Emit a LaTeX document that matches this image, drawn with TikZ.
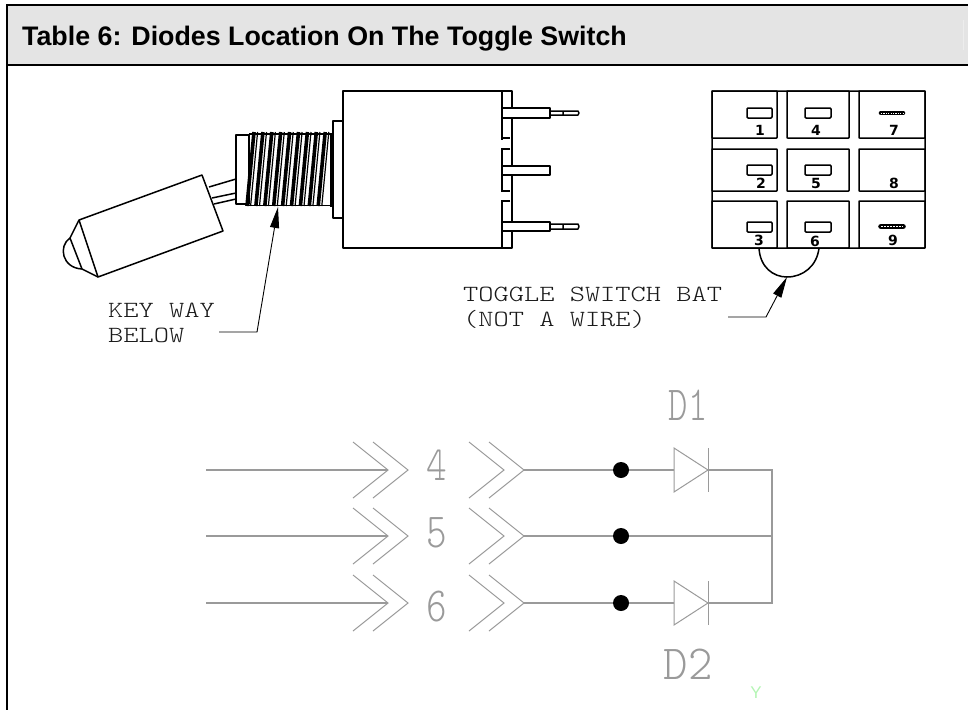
\documentclass[tikz,border=0pt]{standalone}
\usepackage{fontspec}
\setmainfont{Liberation Sans}
\setmonofont{Latin Modern Mono Light}
\newfontfamily\numfont{DejaVu Sans}
\usetikzlibrary{arrows.meta}
\definecolor{headgray}{HTML}{E4E4E4}
\definecolor{wire}{HTML}{9A9A9A}
\definecolor{ygreen}{HTML}{B4F5B4}
\tikzset{
  x=1pt,y=-1pt,
  ink/.style={draw=black,line width=1.5pt,line join=round},
  cell/.style={ink,rounded corners=.5pt},
  gline/.style={draw=wire,line width=1.3pt,line join=miter},
  chev/.style={draw=wire,line width=1pt},
  junction/.style={circle,fill=black,inner sep=0pt,minimum size=16pt},
  lab/.style={anchor=base west,inner sep=0pt,font=\ttfamily\fontsize{29}{29}\selectfont,text=black!90,yscale=.8,transform shape},
  cad/.style={anchor=base,inner sep=0pt,font=\ttfamily\fontsize{49}{49}\selectfont,text=wire,transform shape},
  pinnum/.style={inner sep=0pt,font=\numfont\bfseries\fontsize{14}{14}\selectfont},
  leadtip/.style={-{Triangle[length=21pt,width=9pt]},line width=.9pt}
}
\newcommand{\chevpair}[2]{%
  \draw[chev] (#1,#2-28) -- (#1+35,#2) -- (#1,#2+28);
  \draw[chev] (#1+20,#2-28) -- (#1+55,#2) -- (#1+20,#2+28);}
\newcommand{\diodeat}[2]{%
  \draw[gline,line width=1pt] (#1,#2-22) -- (#1+34,#2) -- (#1,#2+22) -- cycle;
  \draw[gline,line width=1pt] (#1+34,#2-22) -- (#1+34,#2+22);}
\newcommand{\slot}[4]{\draw[cell,rounded corners=1pt] (#1,#2) rectangle (#3,#4);}
\begin{document}
\begin{tikzpicture}
\useasboundingbox (0,0) rectangle (968,710);
% header
\fill[headgray] (7,5) rectangle (968,64.5);
\draw[black,line width=2pt] (6,5) -- (968,5) (6,64.5) -- (968,64.5);
\draw[black,line width=2pt] (7,4) -- (7,710);
\draw[white!93!black,line width=.8pt] (963,20) -- (963,50);
\node[anchor=base west,inner sep=0pt,font=\bfseries\fontsize{26.8}{26.8}\selectfont] (title) at (22,45) {Table 6: Diodes Location On The Toggle Switch};

% toggle handle
\draw[ink] (79,220) -- (202,175) -- (223,231) -- (98,277) -- cycle;
\draw[ink] (79,220) -- (70,238) (98,277) -- (82,269) (70,238) -- (82,269);
\draw[ink] (70,238) .. controls (58,246) and (62,268) .. (82,269);
\draw[ink] (209,187) -- (236,179) (212,198) -- (236,193) (214,204) -- (236,199);
% collar
\draw[ink] (236,135) rectangle (249,204);
% threads
\foreach \k in {0,...,8}{
  \pgfmathsetmacro{\t}{254+8.9*\k}
  \draw[black,line width=3.6pt] (\t,132) -- (\t-7,206);
  \draw[black,line width=1.2pt] (\t+3.6,132) -- (\t-3.4,206);
}
\draw[black,line width=1.8pt] (249,134) -- (332,134) (249,205.5) -- (332,205.5);
\draw[black,line width=3pt] (331,133) -- (331,207);
% flange
\draw[ink,fill=white] (333,121) rectangle (343,218);
% body
\draw[ink] (502,138) -- (502,248) -- (343,248) -- (343,91) -- (502,91) -- (502,138);
\draw[white,line width=2pt] (502,140) -- (502,148) (502,192) -- (502,200);
\draw[ink] (502,91) -- (512,91) -- (512,248) -- (502,248);
\draw[ink] (502,138) -- (510,138) (510,149) -- (502,149) (502,191) -- (510,191) (510,201) -- (502,201);
% pins
\draw[ink,fill=white] (503,108) -- (550,108) -- (550,118) -- (503,118);
\draw[ink] (550,111) -- (578,111) -- (579,113) -- (578,115) -- (550,115) (563,111) -- (563,115);
\draw[ink,fill=white] (503,166) -- (550,166) -- (550,175) -- (503,175);
\draw[ink,fill=white] (503,222) -- (550,222) -- (550,231) -- (503,231);
\draw[ink] (550,224) -- (578,224) -- (579,226.5) -- (578,229) -- (550,229) (563,224) -- (563,229);

% terminal block
\draw[cell] (712,91) rectangle (925,248);
\foreach \xa/\xb in {712/777,787/849,859/925}
  \foreach \ya/\yb in {91/138,149/191,201/248}
    \draw[cell] (\xa,\ya) rectangle (\xb,\yb);
\slot{747}{108}{772}{118}
\slot{805}{108}{831}{118}
\slot{747}{165}{772}{175}
\slot{805}{165}{831}{175}
\slot{747}{222}{772}{232}
\slot{805}{222}{831}{232}
\draw[black,line width=4.6pt,line cap=round] (881,113) -- (903,113);
\draw[white,line width=.8pt,dash pattern=on 1.2pt off 1.2pt] (881,113) -- (903,113);
\draw[black,line width=5.6pt,line cap=round] (881,226.5) -- (903,226.5);
\draw[white,line width=1.4pt,dash pattern=on 1.5pt off 1.5pt] (881,226.5) -- (903,226.5);
\node[pinnum] (p1) at (760,130) {1};
\node[pinnum] (p4) at (816,130) {4};
\node[pinnum] (p7) at (894,130) {7};
\node[pinnum] (p2) at (761,183) {2};
\node[pinnum] (p5) at (816,183) {5};
\node[pinnum] (p8) at (894,183) {8};
\node[pinnum] (p3) at (759,240) {3};
\node[pinnum] (p6) at (815,241) {6};
\node[pinnum] (p9) at (893,240) {9};
% bat
\coordinate (batL) at (759,248);
\coordinate (batR) at (819,248);
\coordinate (batTip) at (787,277);
\draw[ink] (batL) .. controls (760,267) and (773,277) .. (batTip) .. controls (803,277) and (817,266) .. (batR);

% labels + leaders
\node[lab] (key) at (108,317) {KEY WAY};
\node[lab] (below) at (108,342) {BELOW};
\node[lab] (togg) at (463,301) {TOGGLE SWITCH BAT};
\node[lab] (nota) at (463,326) {(NOT A WIRE)};
\coordinate (keyA) at (219,332);
\coordinate (keyB) at (257,332);
\coordinate (keyTip) at (278,207);
\draw[leadtip] (keyA) -- (keyB) -- (keyTip);
\coordinate (batA) at (728,317);
\coordinate (batB) at (766,317);
\draw[leadtip] (batA) -- (batB) -- (batTip);

% schematic
\foreach \y/\d in {470/4,536/5,603/6}{
  \coordinate (in\d) at (206,\y);
  \coordinate (tip\d) at (388,\y);
  \coordinate (out\d) at (524,\y);
  \draw[gline] (in\d) -- (tip\d);
  \chevpair{353}{\y}
  \chevpair{469}{\y}
  \node[junction] (j\d) at (621,\y) {};
}
\node[cad,xscale=.8] (n4) at (437,480) {4};
\node[cad,xscale=.8] (n5) at (437,547) {5};
\node[cad,xscale=.8] (n6) at (437,621) {6};
\node[cad,xscale=.75] (d1) at (688,420) {D1};
\node[cad,xscale=.95] (d2) at (688,679) {D2};
\coordinate (railT) at (772,470);
\coordinate (railM) at (772,536);
\coordinate (railB) at (772,603);
\draw[gline] (out4) -- (j4) -- (674,470);
\draw[gline] (out5) -- (j5) -- (railM);
\draw[gline] (out6) -- (j6) -- (674,603);
\draw[gline] (708,470) -- (railT) -- (railB) -- (708,603);
\diodeat{674}{470}
\diodeat{674}{603}
\node[anchor=base,inner sep=0pt,font=\fontsize{17}{17}\selectfont,text=ygreen] (yy) at (756,698) {Y};
\end{tikzpicture}
\end{document}
